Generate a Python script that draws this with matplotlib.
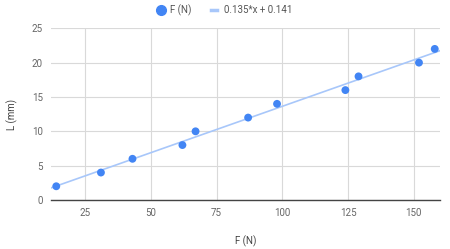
import numpy as np
import matplotlib.pyplot as plt
from matplotlib.lines import Line2D

plt.rcParams['font.family'] = ['Roboto', 'DejaVu Sans']

# data
force = [14, 31, 43, 62, 67, 87, 98, 124, 129, 152, 158]
length = [2, 4, 6, 8, 10, 12, 14, 16, 18, 20, 22]
slope = 0.135
intercept = 0.141
x_ticks = [25, 50, 75, 100, 125, 150]
y_ticks = [0, 5, 10, 15, 20, 25]

fig = plt.figure(figsize=(4.5, 2.49), dpi=100)
ax = fig.add_axes([51 / 450, 1 - 200 / 249, 389 / 450, 171.7 / 249])

xmin, xmax = 12, 160
xs = np.array([xmin, xmax])
ax.plot(xs, slope * xs + intercept, color='#a8c7fa', lw=1.2, zorder=2)
ax.scatter(force, length, s=32, color='#4285f4', zorder=3, edgecolors='none')

ax.set_xlim(xmin, xmax)
ax.set_ylim(0, 25)
ax.set_xticks(x_ticks)
ax.set_yticks(y_ticks)
ax.grid(True, color='#d9d9d9', lw=0.8)
ax.set_axisbelow(True)
for s in ['top', 'right', 'left']:
    ax.spines[s].set_visible(False)
ax.spines['bottom'].set_color('#444444')
ax.spines['bottom'].set_linewidth(1.0)
ax.tick_params(length=0, labelsize=7, colors='#666666', pad=6)

ax.set_xlabel('F (N)', fontsize=7, color='#444444', labelpad=12)
ax.set_ylabel('L (mm)', fontsize=7, color='#444444', labelpad=10)

handles = [
    Line2D([], [], marker='o', ls='none', color='#4285f4', markersize=7),
    Line2D([], [], color='#a8c7fa', lw=2.5),
]
fig.legend(handles, ['F (N)', '0.135*x + 0.141'], loc='center',
           bbox_to_anchor=(0.5, 1 - 10 / 249), ncol=2, frameon=False,
           fontsize=7, labelcolor='#555555', handlelength=0.6,
           columnspacing=2.0, handletextpad=0.7)

fig.savefig('out.png', dpi=100, facecolor='white')
